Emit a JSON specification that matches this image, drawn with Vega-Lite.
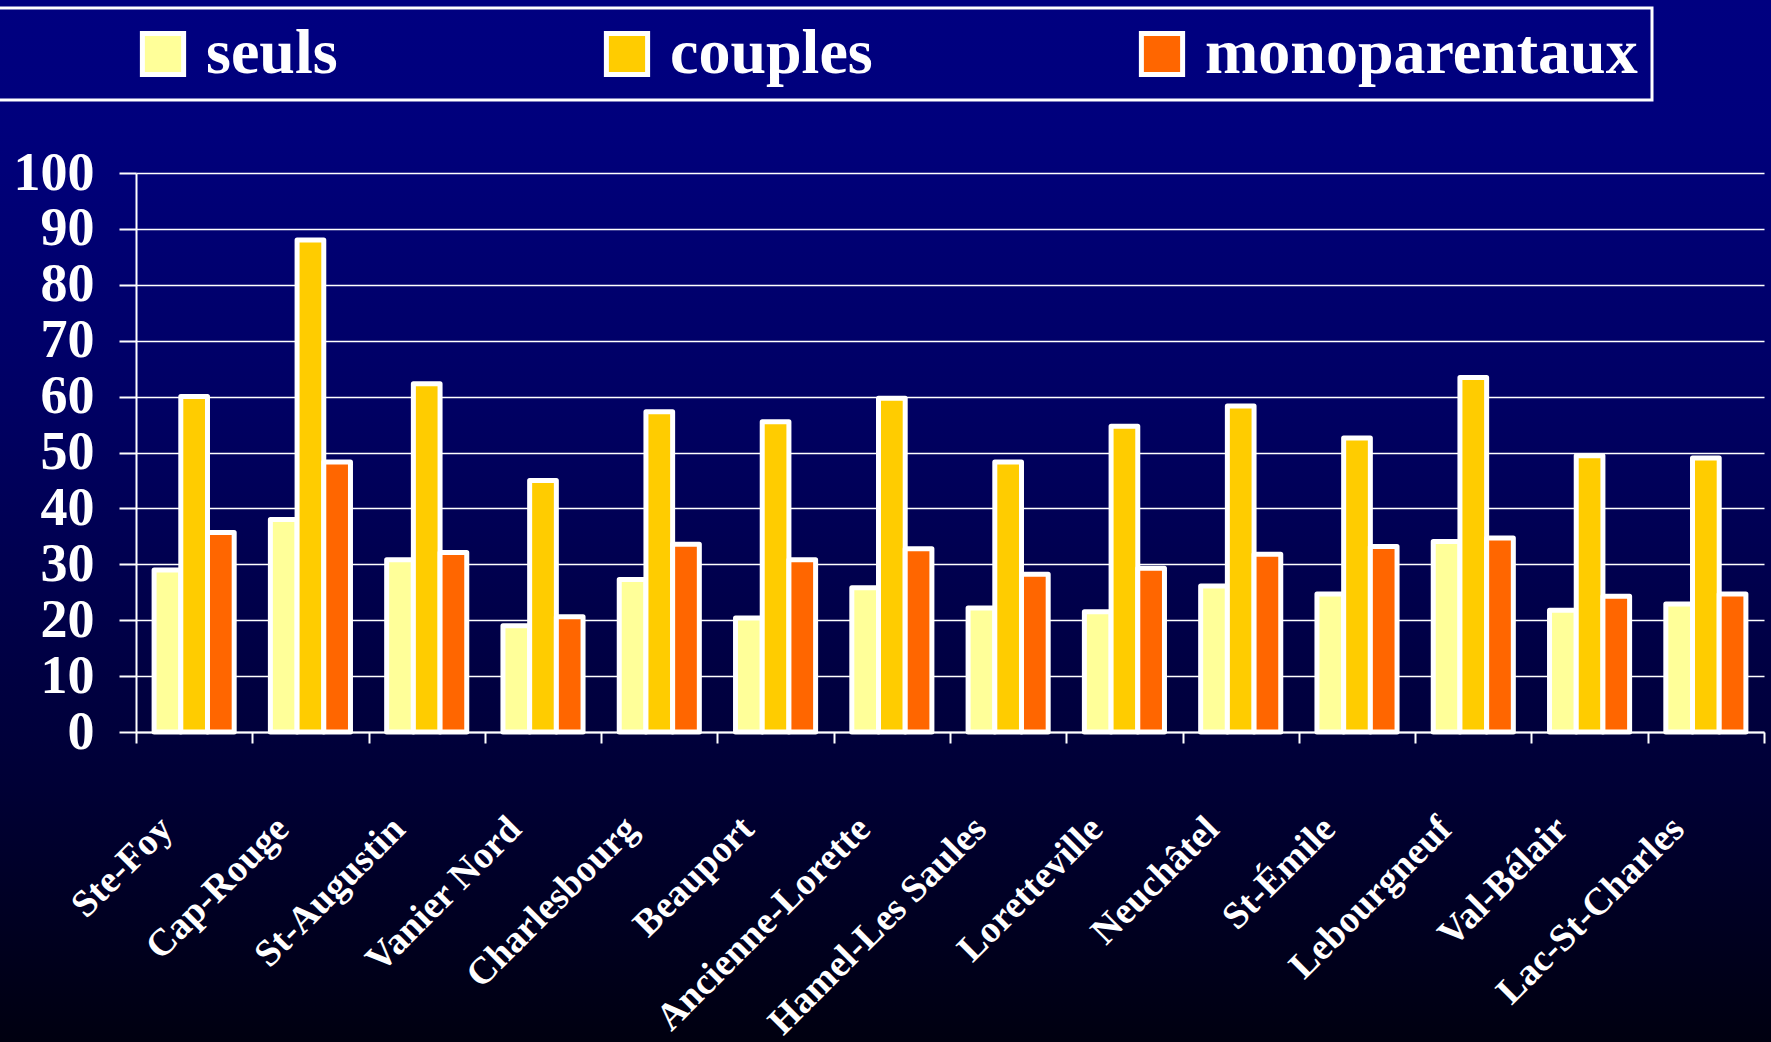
{
  "$schema": "https://vega.github.io/schema/vega-lite/v6.json",
  "width": 1771,
  "height": 1042,
  "autosize": {"type": "none"},
  "padding": 0,
  "background": "#000050",
  "config": {"legend": {"strokeWidth": 3}},
  "view": {
    "fill": {
      "gradient": "linear", "x1": 0, "y1": 0, "x2": 0, "y2": 1,
      "stops": [
        {"offset": 0, "color": "#000080"},
        {"offset": 0.12, "color": "#00007C"},
        {"offset": 0.38, "color": "#000064"},
        {"offset": 0.66, "color": "#000040"},
        {"offset": 0.75, "color": "#000036"},
        {"offset": 1, "color": "#000010"}
      ]
    },
    "stroke": null
  },
  "data": {
    "values": [
      {"zone": "Ste-Foy", "serie": "seuls", "valeur": 29.0},
      {"zone": "Ste-Foy", "serie": "couples", "valeur": 60.0},
      {"zone": "Ste-Foy", "serie": "monoparentaux", "valeur": 35.7},
      {"zone": "Cap-Rouge", "serie": "seuls", "valeur": 38.0},
      {"zone": "Cap-Rouge", "serie": "couples", "valeur": 88.0},
      {"zone": "Cap-Rouge", "serie": "monoparentaux", "valeur": 48.3},
      {"zone": "St-Augustin", "serie": "seuls", "valeur": 30.8},
      {"zone": "St-Augustin", "serie": "couples", "valeur": 62.3},
      {"zone": "St-Augustin", "serie": "monoparentaux", "valeur": 32.1},
      {"zone": "Vanier Nord", "serie": "seuls", "valeur": 19.0},
      {"zone": "Vanier Nord", "serie": "couples", "valeur": 45.0},
      {"zone": "Vanier Nord", "serie": "monoparentaux", "valeur": 20.6},
      {"zone": "Charlesbourg", "serie": "seuls", "valeur": 27.3},
      {"zone": "Charlesbourg", "serie": "couples", "valeur": 57.3},
      {"zone": "Charlesbourg", "serie": "monoparentaux", "valeur": 33.6},
      {"zone": "Beauport", "serie": "seuls", "valeur": 20.4},
      {"zone": "Beauport", "serie": "couples", "valeur": 55.5},
      {"zone": "Beauport", "serie": "monoparentaux", "valeur": 30.8},
      {"zone": "Ancienne-Lorette", "serie": "seuls", "valeur": 25.8},
      {"zone": "Ancienne-Lorette", "serie": "couples", "valeur": 59.7},
      {"zone": "Ancienne-Lorette", "serie": "monoparentaux", "valeur": 32.8},
      {"zone": "Hamel-Les Saules", "serie": "seuls", "valeur": 22.2},
      {"zone": "Hamel-Les Saules", "serie": "couples", "valeur": 48.3},
      {"zone": "Hamel-Les Saules", "serie": "monoparentaux", "valeur": 28.2},
      {"zone": "Loretteville", "serie": "seuls", "valeur": 21.5},
      {"zone": "Loretteville", "serie": "couples", "valeur": 54.7},
      {"zone": "Loretteville", "serie": "monoparentaux", "valeur": 29.3},
      {"zone": "Neuchâtel", "serie": "seuls", "valeur": 26.1},
      {"zone": "Neuchâtel", "serie": "couples", "valeur": 58.3},
      {"zone": "Neuchâtel", "serie": "monoparentaux", "valeur": 31.8},
      {"zone": "St-Émile", "serie": "seuls", "valeur": 24.7},
      {"zone": "St-Émile", "serie": "couples", "valeur": 52.6},
      {"zone": "St-Émile", "serie": "monoparentaux", "valeur": 33.2},
      {"zone": "Lebourgneuf", "serie": "seuls", "valeur": 34.1},
      {"zone": "Lebourgneuf", "serie": "couples", "valeur": 63.4},
      {"zone": "Lebourgneuf", "serie": "monoparentaux", "valeur": 34.7},
      {"zone": "Val-Bélair", "serie": "seuls", "valeur": 21.8},
      {"zone": "Val-Bélair", "serie": "couples", "valeur": 49.4},
      {"zone": "Val-Bélair", "serie": "monoparentaux", "valeur": 24.3},
      {"zone": "Lac-St-Charles", "serie": "seuls", "valeur": 22.9},
      {"zone": "Lac-St-Charles", "serie": "couples", "valeur": 49.0},
      {"zone": "Lac-St-Charles", "serie": "monoparentaux", "valeur": 24.7}
    ]
  },
  "mark": {"type": "bar", "stroke": "white", "strokeJoin": "round"},
  "encoding": {
    "x": {
      "field": "zone",
      "type": "nominal",
      "sort": null,
      "scale": {"range": [136, 1764], "paddingInner": 0, "paddingOuter": 0},
      "axis": {
        "title": null,
        "orient": "bottom",
        "offset": -310,
        "grid": false,
        "domain": true,
        "domainColor": "white",
        "domainWidth": 2,
        "ticks": true,
        "tickBand": "extent",
        "tickColor": "white",
        "tickWidth": 2,
        "tickSize": 11,
        "labelAngle": -45,
        "labelAlign": "right",
        "labelBaseline": "middle",
        "labelPadding": 80,
        "labelOffset": -28,
        "labelFont": "Liberation Serif",
        "labelFontWeight": "bold",
        "labelFontSize": 38,
        "labelColor": "white",
        "labelLimit": 600,
        "labelOverlap": false
      }
    },
    "xOffset": {
      "field": "serie",
      "type": "nominal",
      "sort": ["seuls", "couples", "monoparentaux"],
      "scale": {"paddingInner": 0, "paddingOuter": 0.678}
    },
    "y": {
      "field": "valeur",
      "type": "quantitative",
      "scale": {"domain": [0, 100], "range": [732, 173], "nice": false, "zero": true},
      "axis": {
        "title": null,
        "orient": "left",
        "offset": -136,
        "values": [0, 10, 20, 30, 40, 50, 60, 70, 80, 90, 100],
        "grid": true,
        "gridColor": "white",
        "gridWidth": 1.5,
        "gridOpacity": 1,
        "domain": true,
        "domainColor": "white",
        "domainWidth": 2,
        "ticks": true,
        "tickColor": "white",
        "tickWidth": 2,
        "tickSize": 17,
        "labelPadding": 25,
        "labelFont": "Liberation Serif",
        "labelFontWeight": "bold",
        "labelFontSize": 54,
        "labelColor": "white",
        "labelBaseline": "middle",
        "labelFlush": false,
        "labelOverlap": false
      }
    },
    "color": {
      "field": "serie",
      "type": "nominal",
      "sort": ["seuls", "couples", "monoparentaux"],
      "scale": {"domain": ["seuls", "couples", "monoparentaux"], "range": ["#FFFF99", "#FFCC00", "#FF6600"]},
      "legend": {
        "title": "\u00a0",
        "titleOrient": "left",
        "titleFontSize": 64,
        "titlePadding": 123,
        "orient": "none",
        "legendX": -6,
        "legendY": 8,
        "direction": "horizontal",
        "columnPadding": 257,
        "padding": 14,
        "strokeColor": "white",
        "symbolType": "square",
        "symbolSize": 1700,
        "symbolStrokeColor": "white",
        "symbolStrokeWidth": 4,
        "symbolOpacity": 1,
        "labelFont": "Liberation Serif",
        "labelFontWeight": "bold",
        "labelFontSize": 64,
        "labelColor": "white",
        "labelOffset": 11,
        "labelLimit": 800
      }
    },
    "strokeWidth": {
      "field": "serie",
      "type": "ordinal",
      "scale": {"domain": ["seuls", "couples", "monoparentaux"], "range": [5, 5, 2]},
      "legend": null
    }
  }
}
